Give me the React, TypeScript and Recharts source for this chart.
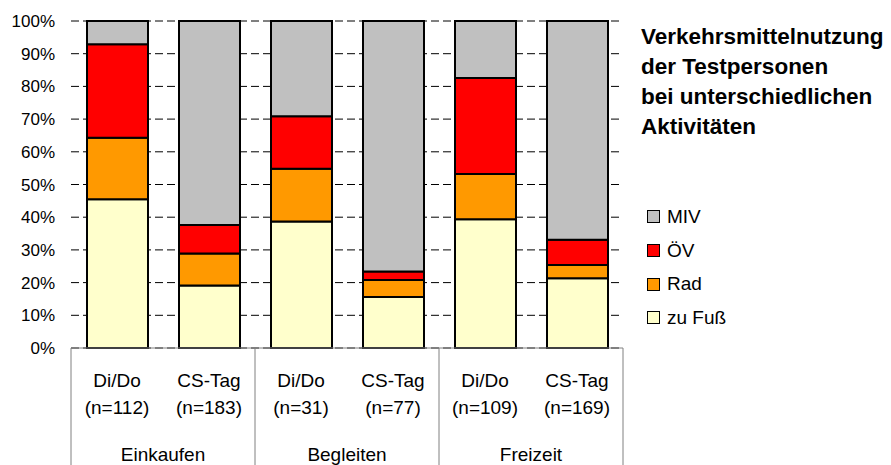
import React from "react";
import { BarChart, Bar, XAxis, YAxis, CartesianGrid } from "recharts";

// Tagestyp und Stichprobengröße je Säule
const dayTypes = ["Di/Do", "CS-Tag", "Di/Do", "CS-Tag", "Di/Do", "CS-Tag"];
const sampleSizes = [112, 183, 31, 77, 109, 169];
const activities = ["Einkaufen", "Begleiten", "Freizeit"];

// Anteile in Prozent je Verkehrsmittel
const zuFuss = [45.5, 19.1, 38.7, 15.6, 39.4, 21.3];
const rad = [18.8, 9.8, 16.1, 5.2, 13.8, 4.1];
const oev = [28.6, 8.7, 16.1, 2.6, 29.4, 7.7];
const miv = [7.1, 62.4, 29.1, 76.6, 17.4, 66.9];

const yTicks = [0, 10, 20, 30, 40, 50, 60, 70, 80, 90, 100];

const titleLines = [
  "Verkehrsmittelnutzung",
  "der Testpersonen",
  "bei unterschiedlichen",
  "Aktivitäten",
];

// Stapelreihenfolge von unten nach oben
const series = [
  { key: "zuFuss", name: "zu Fuß", color: "#FFFFCC" },
  { key: "rad", name: "Rad", color: "#FF9900" },
  { key: "oev", name: "ÖV", color: "#FF0000" },
  { key: "miv", name: "MIV", color: "#C0C0C0" },
];

const data = dayTypes.map((d, i) => ({
  day: d,
  n: sampleSizes[i],
  activity: activities[Math.floor(i / 2)],
  zuFuss: zuFuss[i],
  rad: rad[i],
  oev: oev[i],
  miv: miv[i],
}));

const FONT = "'Liberation Sans', Arial, sans-serif";
const W = 891;
const H = 465;
const M = { top: 21, right: 268, left: 0, bottom: 0 };
const Y_WIDTH = 71;
const X_HEIGHT = 117;
const SLOT = (W - Y_WIDTH - M.right) / data.length;

function GroupTick(props: any) {
  const { x, y, index, payload } = props;
  const row = data[index];
  const isGroupStart = index % 2 === 0;
  const isLast = index === data.length - 1;
  return (
    <g>
      {isGroupStart && (
        <line x1={x - SLOT / 2} x2={x - SLOT / 2} y1={y} y2={H} stroke="#808080" />
      )}
      {isLast && (
        <line x1={x + SLOT / 2} x2={x + SLOT / 2} y1={y} y2={H} stroke="#808080" />
      )}
      <text x={x} y={y + 39} textAnchor="middle" fontSize={19} fill="#000" fontFamily={FONT}>
        {payload.value}
      </text>
      <text x={x} y={y + 66} textAnchor="middle" fontSize={19} fill="#000" fontFamily={FONT}>
        {`(n=${row.n})`}
      </text>
      {isGroupStart && (
        <text x={x + SLOT / 2} y={y + 113} textAnchor="middle" fontSize={19} fill="#000" fontFamily={FONT}>
          {row.activity}
        </text>
      )}
    </g>
  );
}

export default function App() {
  return (
    <div style={{ position: "relative", width: W, height: H, background: "#fff" }}>
      <style>{"body{margin:0}"}</style>
      <BarChart width={W} height={H} data={data} margin={M}>
        <CartesianGrid
          horizontal
          vertical={false}
          stroke="#000"
          strokeDasharray="8 4"
        />
        <XAxis
          dataKey="day"
          height={X_HEIGHT}
          tickLine={false}
          tickSize={0}
          tickMargin={0}
          axisLine={{ stroke: "#808080" }}
          interval={0}
          tick={<GroupTick />}
        />
        <YAxis
          width={Y_WIDTH}
          domain={[0, 100]}
          ticks={yTicks}
          interval={0}
          axisLine={false}
          tickLine={false}
          tickMargin={10}
          tickFormatter={(v: number) => `${v}%`}
          tick={{ fontSize: 17, fill: "#000", fontFamily: FONT }}
        />
        {series.map((s) => (
          <Bar
            key={s.key}
            dataKey={s.key}
            name={s.name}
            stackId="a"
            fill={s.color}
            stroke="#000"
            strokeWidth={2}
            barSize={61}
            isAnimationActive={false}
          />
        ))}
      </BarChart>

      {/* Überschrift rechts oben */}
      <div
        style={{
          position: "absolute",
          left: 641,
          top: 22,
          fontFamily: FONT,
          fontWeight: "bold",
          fontSize: 22.5,
          lineHeight: "30px",
          color: "#000",
          whiteSpace: "nowrap",
        }}
      >
        {titleLines.map((l) => (
          <div key={l}>{l}</div>
        ))}
      </div>

      {/* Legende, oberste Stapelschicht zuerst */}
      <div
        style={{
          position: "absolute",
          left: 647,
          top: 200,
          fontFamily: FONT,
          fontSize: 19,
          color: "#000",
        }}
      >
        {[...series].reverse().map((s) => (
          <div key={s.key} style={{ display: "flex", alignItems: "center", height: 33.7 }}>
            <span
              style={{
                width: 11,
                height: 11,
                background: s.color,
                border: "1.5px solid #000",
                marginRight: 7,
                display: "inline-block",
              }}
            />
            <span>{s.name}</span>
          </div>
        ))}
      </div>
    </div>
  );
}
